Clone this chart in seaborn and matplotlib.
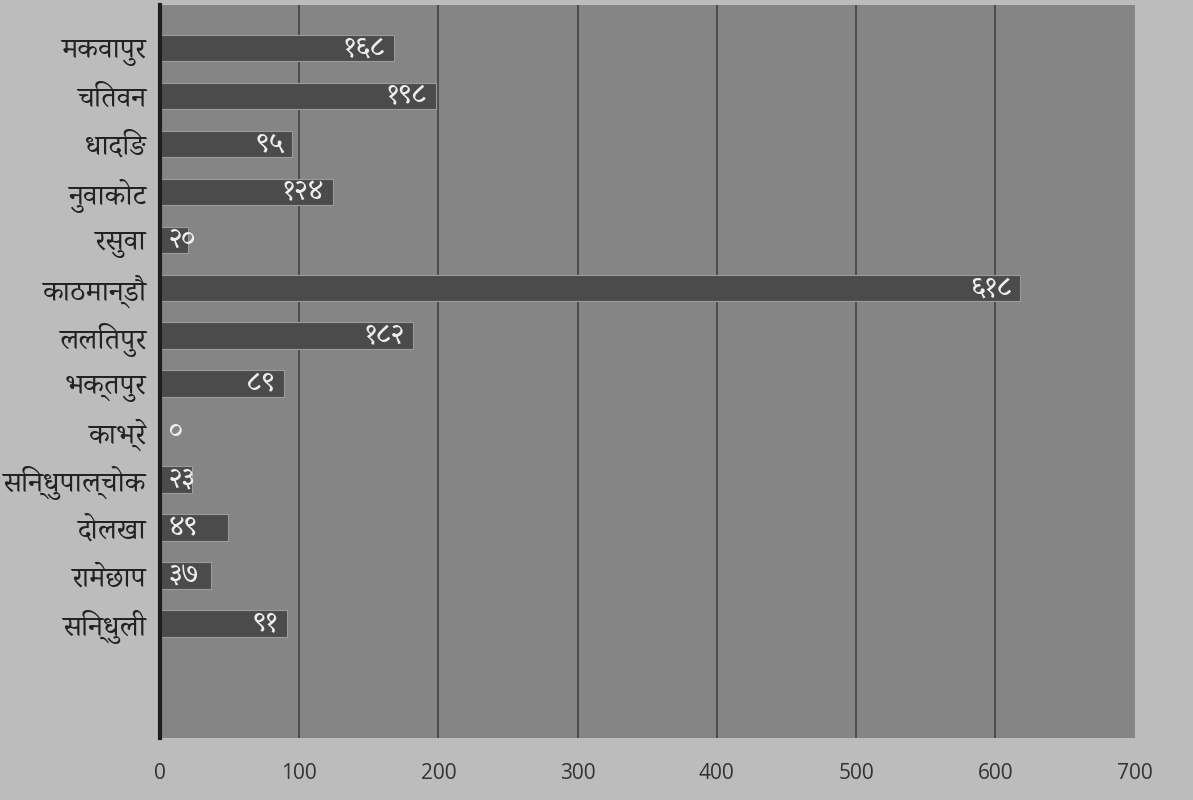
import numpy as np
import pandas as pd
import matplotlib
matplotlib.use("Agg")
import matplotlib.pyplot as plt
from matplotlib import font_manager
import seaborn as sns

districts = ['मकवापुर', 'चितवन', 'धादिङ', 'नुवाकोट', 'रसुवा', 'काठमान्डौ', 'ललितपुर',
             'भक्तपुर', 'काभ्रे', 'सिन्धुपाल्चोक', 'दोलखा', 'रामेछाप', 'सिन्धुली']
counts = [168, 198, 95, 124, 20, 618, 182, 89, 0, 23, 49, 37, 91]
xticks = [0, 100, 200, 300, 400, 500, 600, 700]

DEV_DIGITS = str.maketrans('0123456789', '०१२३४५६७८९')


def find_devanagari_font():
    # look for installed fonts that have Devanagari glyphs, prefer proportional ones
    try:
        from fontTools.ttLib import TTFont
    except ImportError:
        return None
    found = []
    for f in font_manager.fontManager.ttflist:
        try:
            tt = TTFont(f.fname, fontNumber=0, lazy=True)
            cmap = tt.getBestCmap()
            if cmap and 0x0915 in cmap and 0x0967 in cmap:
                found.append(f.name)
        except Exception:
            continue
    if not found:
        return None

    def rank(name):
        n = name.lower()
        score = 0
        if 'mono' in n or 'code' in n:
            score += 10
        if 'serif' in n and 'sans' not in n:
            score -= 3
        if 'devanagari' in n or 'lohit' in n or 'mukta' in n or 'gargi' in n:
            score -= 2
        return score
    found.sort(key=rank)
    return found[0]


sns.set_theme(style='white')
dev_font = find_devanagari_font()
families = ['Open Sans'] + ([dev_font] if dev_font else []) + ['DejaVu Sans']
plt.rcParams['font.family'] = families

df = pd.DataFrame({'district': districts, 'count': counts})

fig = plt.figure(figsize=(11.93, 8), dpi=100, facecolor='#bcbcbc')
ax = fig.add_axes([0.134, 0.077, 0.817, 0.917])
ax.set_facecolor('#858585')

# vertical grid lines
for t in xticks[1:-1]:
    ax.axvline(t, color='#3c3c3c', lw=1.1, zorder=0)

sns.barplot(data=df, x='count', y='district', orient='h', color='#4b4b4b',
            width=0.55, saturation=1, edgecolor='#9a9a9a', linewidth=0.8,
            ax=ax, zorder=2)

for i, v in enumerate(counts):
    label = str(v).translate(DEV_DIGITS)
    if v < 60:
        ax.annotate(label, (0, i), xytext=(6, 0), textcoords='offset points',
                    ha='left', va='center', color='#eeeeee', fontsize=21, zorder=3)
    else:
        ax.annotate(label, (v, i), xytext=(-6, 0), textcoords='offset points',
                    ha='right', va='center', color='#eeeeee', fontsize=21, zorder=3)

ax.set_xlim(0, 700)
ax.set_ylim(14.4, -0.9)
ax.set_xticks(xticks)
ax.set_xticklabels([str(t) for t in xticks], fontsize=15, color='#333333')
ax.tick_params(axis='x', pad=18, length=0)
ax.tick_params(axis='y', labelsize=21, labelcolor='#222222', pad=10, length=0)
ax.set_xlabel('')
ax.set_ylabel('')

for side in ['top', 'right', 'bottom']:
    ax.spines[side].set_visible(False)
ax.spines['left'].set_color('#1e1e1e')
ax.spines['left'].set_linewidth(3)

fig.savefig('out.png', dpi=100, facecolor=fig.get_facecolor())
